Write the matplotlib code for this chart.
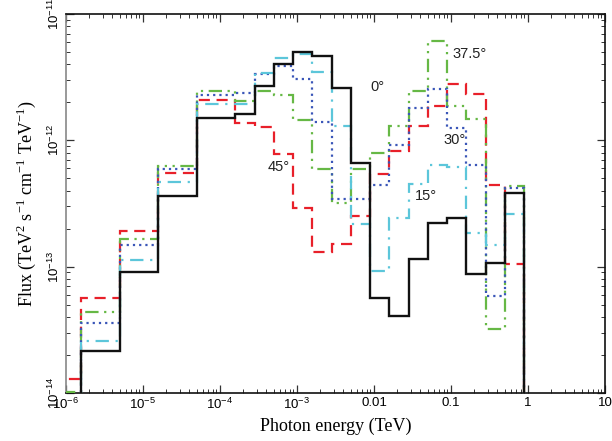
import matplotlib
matplotlib.use("Agg")
import matplotlib.pyplot as plt
import numpy as np

# bin edges, log10(E / TeV)
LOG_EDGES = [-6.3, -5.8, -5.3, -4.8, -4.3, -3.8, -3.55, -3.3, -3.05, -2.8, -2.55,
             -2.3, -2.05, -1.8, -1.55, -1.3, -1.05, -0.8, -0.55, -0.3, -0.05]

# flux per bin (TeV^2 s^-1 cm^-1 TeV^-1), one list per viewing angle
flux_0 = [1e-15, 2.16e-14, 9.0e-14, 3.66e-13, 1.51e-12, 1.62e-12, 2.67e-12, 4.03e-12,
          5.05e-12, 4.69e-12, 2.59e-12, 6.6e-13, 5.7e-14, 4.1e-14, 1.16e-13, 2.23e-13,
          2.41e-13, 8.7e-14, 1.06e-13, 3.85e-13]
flux_15 = [1e-15, 2.6e-14, 1.12e-13, 4.7e-13, 1.95e-12, 1.95e-12, 3.4e-12, 4.47e-12,
           4.83e-12, 3.48e-12, 1.29e-12, 2.16e-13, 9.3e-14, 2.45e-13, 4.5e-13, 6.35e-13,
           6.1e-13, 1.86e-13, 1.48e-13, 2.59e-13]
flux_30 = [1e-15, 3.57e-14, 1.48e-13, 5.9e-13, 2.29e-12, 2.37e-12, 3.34e-12, 3.9e-12,
           3.05e-12, 1.39e-12, 3.46e-13, 3.46e-13, 4.4e-13, 9.25e-13, 1.8e-12, 2.55e-12,
           1.25e-12, 6.35e-13, 5.9e-14, 4.2e-13]
flux_375 = [1.02e-14, 4.4e-14, 1.67e-13, 6.3e-13, 2.48e-12, 2.06e-12, 2.48e-12, 2.3e-12,
            1.46e-12, 5.9e-13, 3.2e-13, 5.9e-13, 7.9e-13, 1.29e-12, 2.44e-12, 6.1e-12,
            1.88e-12, 1.48e-12, 3.2e-14, 4.33e-13]
flux_45 = [1.3e-14, 5.6e-14, 1.9e-13, 5.5e-13, 2.1e-12, 1.36e-12, 1.28e-12, 7.85e-13,
           2.93e-13, 1.3e-13, 1.5e-13, 2.5e-13, 5.4e-13, 8.3e-13, 1.29e-12, 1.86e-12,
           2.79e-12, 2.32e-12, 4.47e-13, 1.05e-13]

ANGLE_LABELS = ["0°", "15°", "30°", "37.5°", "45°"]
# where each angle label sits (energy, flux)
LABEL_POS = [(8.9e-3, 2.65e-12), (3.4e-2, 3.66e-13), (7.9e-2, 1.0e-12),
             (1.03e-1, 4.85e-12), (4.2e-4, 6.2e-13)]

X_TICKS = [1e-6, 1e-5, 1e-4, 1e-3, 1e-2, 1e-1, 1, 10]
X_TICK_LABELS = [r"$\mathsf{10^{-6}}$", r"$\mathsf{10^{-5}}$", r"$\mathsf{10^{-4}}$",
                 r"$\mathsf{10^{-3}}$", "0.01", "0.1", "1", "10"]
Y_TICKS = [1e-14, 1e-13, 1e-12, 1e-11]
Y_TICK_LABELS = [r"$\mathsf{10^{-14}}$", r"$\mathsf{10^{-13}}$", r"$\mathsf{10^{-12}}$",
                 r"$\mathsf{10^{-11}}$"]

STYLES = [
    ("#111111", "-"),
    ("#5cc6da", (0, (6, 3, 1, 3))),
    ("#3a56b8", (0, (1, 1.8))),
    ("#66b845", (0, (6, 2.5, 1, 2.5, 1, 2.5))),
    ("#e8202a", (0, (5, 3))),
]

plt.rcParams["mathtext.fontset"] = "custom"
plt.rcParams["mathtext.rm"] = "Liberation Serif"
plt.rcParams["mathtext.sf"] = "Liberation Sans"
plt.rcParams["font.family"] = "Liberation Sans"

edges = 10 ** np.array(LOG_EDGES)
series = [flux_0, flux_15, flux_30, flux_375, flux_45]

fig = plt.figure(figsize=(6.12, 4.41), dpi=100)
ax = fig.add_axes([0.1078, 0.1088, 0.8808, 0.8594])

# draw coloured ones first, black on top last
order = [4, 3, 2, 1, 0]
for i in order:
    color, ls = STYLES[i]
    ax.stairs(series[i], edges, baseline=1e-16, color=color, linestyle=ls,
              linewidth=1.6 if i else 1.7, zorder=3 if i else 4)

for text, (x, y) in zip(ANGLE_LABELS, LABEL_POS):
    ax.text(x, y, text, fontsize=10.5, ha="left", va="center", color="#222222")

ax.set_xscale("log")
ax.set_yscale("log")
ax.set_xlim(1e-6, 10)
ax.set_ylim(1e-14, 1e-11)

ax.set_xticks(X_TICKS)
ax.set_xticklabels(X_TICK_LABELS, fontsize=9.5)
ax.set_yticks(Y_TICKS)
ax.set_yticklabels(Y_TICK_LABELS, fontsize=9.5, rotation=90, va="center")

ax.tick_params(which="both", direction="in", top=True, right=True, color="#333333")
ax.tick_params(which="major", length=6, width=0.9, pad=3)
ax.tick_params(which="minor", length=3, width=0.7)

for name, spine in ax.spines.items():
    spine.set_linewidth(1.2)
    spine.set_color("#888888" if name == "left" else "#111111")

ax.set_xlabel("Photon energy (TeV)", fontfamily="Liberation Serif", fontsize=13, labelpad=4)
ax.set_ylabel(r"Flux (TeV$^{2}$ s$^{-1}$ cm$^{-1}$ TeV$^{-1}$)",
              fontfamily="Liberation Serif", fontsize=13, labelpad=6)

fig.savefig("out.png", dpi=100)
